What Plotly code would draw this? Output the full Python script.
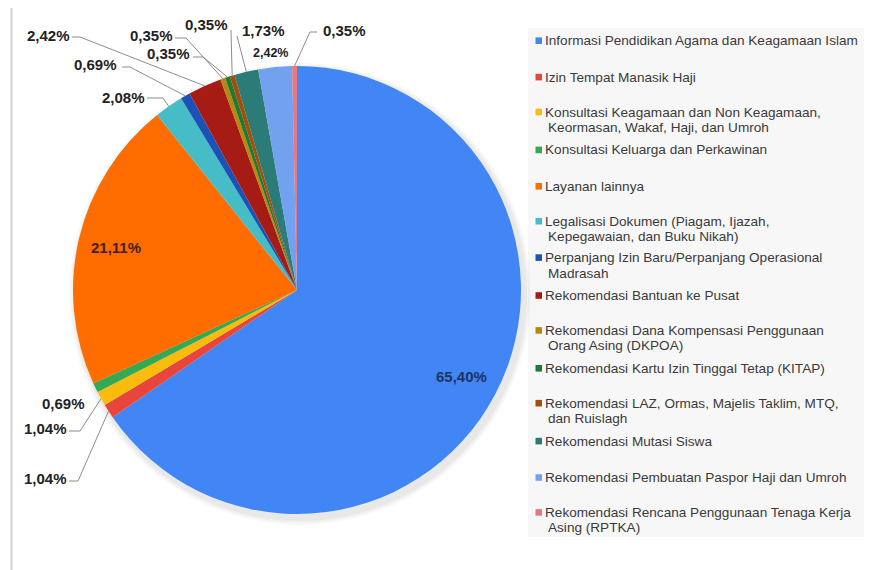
import math
import plotly.graph_objects as go

# ---------------- data ----------------
categories = [
    "Informasi Pendidikan Agama dan Keagamaan Islam",
    "Izin Tempat Manasik Haji",
    "Konsultasi Keagamaan dan Non Keagamaan, Keormasan, Wakaf, Haji, dan Umroh",
    "Konsultasi Keluarga dan Perkawinan",
    "Layanan lainnya",
    "Legalisasi Dokumen (Piagam, Ijazah, Kepegawaian, dan Buku Nikah)",
    "Perpanjang Izin Baru/Perpanjang Operasional Madrasah",
    "Rekomendasi Bantuan ke Pusat",
    "Rekomendasi Dana Kompensasi Penggunaan Orang Asing (DKPOA)",
    "Rekomendasi Kartu Izin Tinggal Tetap (KITAP)",
    "Rekomendasi LAZ, Ormas, Majelis Taklim, MTQ, dan Ruislagh",
    "Rekomendasi Mutasi Siswa",
    "Rekomendasi Pembuatan Paspor Haji dan Umroh",
    "Rekomendasi Rencana Penggunaan Tenaga Kerja Asing (RPTKA)",
]
legend_lines = [
    ["Informasi Pendidikan Agama dan Keagamaan Islam"],
    ["Izin Tempat Manasik Haji"],
    ["Konsultasi Keagamaan dan Non Keagamaan,", "Keormasan, Wakaf, Haji, dan Umroh"],
    ["Konsultasi Keluarga dan Perkawinan"],
    ["Layanan lainnya"],
    ["Legalisasi Dokumen (Piagam, Ijazah,", "Kepegawaian, dan Buku Nikah)"],
    ["Perpanjang Izin Baru/Perpanjang Operasional", "Madrasah"],
    ["Rekomendasi Bantuan ke Pusat"],
    ["Rekomendasi Dana Kompensasi Penggunaan", "Orang Asing (DKPOA)"],
    ["Rekomendasi Kartu Izin Tinggal Tetap (KITAP)"],
    ["Rekomendasi LAZ, Ormas, Majelis Taklim, MTQ,", "dan Ruislagh"],
    ["Rekomendasi Mutasi Siswa"],
    ["Rekomendasi Pembuatan Paspor Haji dan Umroh"],
    ["Rekomendasi Rencana Penggunaan Tenaga Kerja", "Asing (RPTKA)"],
]
percentages = [65.40, 1.04, 1.04, 0.69, 21.11, 2.08, 0.69, 2.42, 0.35, 0.35, 0.35, 1.73, 2.42, 0.35]

colors = ["#4285f4", "#e8453c", "#f9bb0c", "#34a853", "#ff6d01", "#46bdc6", "#1a52b8",
          "#a61c14", "#b8870c", "#1f7a33", "#a64d0d", "#2b7b77", "#72a1f0", "#ea7780"]

# ---------------- layout constants (pixels in the page) ----------------
W, H = 872, 570
OFF = 8  # default page margin around the figure
CX, CY, R = 297, 290, 224


def px(x):
    return (x - OFF) / W


def py(y):
    return 1 - (y - OFF) / H


FONT = "Arial, Liberation Sans, sans-serif"

fig = go.Figure()
fig.add_trace(go.Pie(
    labels=categories,
    values=percentages,
    marker=dict(colors=colors, line=dict(width=0)),
    sort=False,
    direction="clockwise",
    rotation=0,
    textinfo="none",
    showlegend=False,
    hovertemplate="%{label}: %{value:.2f}%<extra></extra>",
    domain=dict(x=[px(CX - R), px(CX + R)], y=[py(CY + R), py(CY - R)]),
))

# slice middle angles (clockwise from 12 o'clock), from data
total = sum(percentages)
mid_angles = []
cum = 0.0
for v in percentages:
    mid_angles.append((cum + v / 2) / total * 2 * math.pi)
    cum += v


def polar(angle, r):
    return CX + r * math.sin(angle), CY - r * math.cos(angle)


def fmt(v):
    return f"{v:.2f}".replace(".", ",") + "%"


shapes = []
annotations = []

# frame + legend box + subtle pie shadow
shapes.append(dict(type="rect", xref="paper", yref="paper", x0=px(11.5), x1=px(W + 30),
                   y0=py(H + 30), y1=py(5), line=dict(color="#d2d2d2", width=2),
                   fillcolor="rgba(0,0,0,0)", layer="below"))
shapes.append(dict(type="rect", xref="paper", yref="paper", x0=px(528), x1=px(865),
                   y0=py(537), y1=py(28), line=dict(width=0), fillcolor="#f7f7f7",
                   layer="below"))
for k, a in enumerate([0.025, 0.03, 0.035]):
    g = 7 - 2 * k
    shapes.append(dict(type="circle", xref="paper", yref="paper",
                       x0=px(CX - R - g + 3), x1=px(CX + R + g + 3),
                       y0=py(CY + R + g + 4), y1=py(CY - R - g + 4),
                       line=dict(width=0), fillcolor=f"rgba(0,0,0,{a})", layer="below"))

# inside labels
inside = {0: "#1d3461", 4: "#45200a"}
for i, col in inside.items():
    x, y = polar(mid_angles[i], 0.83 * R)
    annotations.append(dict(x=px(x), y=py(y), xref="paper", yref="paper",
                            xanchor="center", yanchor="middle",
                            text=f"<b>{fmt(percentages[i])}</b>", showarrow=False,
                            font=dict(family=FONT, size=15, color=col)))

# outside labels: (text left x, text y, leader points before the slice edge)
outside = {
    1: (22, 478, [(69, 481), (78, 481)]),
    2: (22, 428, [(69, 431), (80, 431)]),
    3: (40, 403, None),
    5: (100, 97, [(147, 98), (163, 98)]),
    6: (72, 65, [(122, 67), (130, 67)]),
    7: (25, 35, [(72, 37), (80, 37)]),
    8: (128, 35, [(175, 38), (186, 38)]),
    9: (145, 53, [(193, 57), (203, 57)]),
    10: (183, 25, [(231, 30)]),
    11: (240, 30, [(237, 36)]),
    13: (321, 30, [(317, 32), (310, 32)]),
}
for i, (tx, ty, pts) in outside.items():
    annotations.append(dict(x=px(tx), y=py(ty), xref="paper", yref="paper", xanchor="left",
                            yanchor="middle", text=f"<b>{fmt(percentages[i])}</b>",
                            showarrow=False, font=dict(family=FONT, size=15, color="#222222")))
    if pts:
        ex, ey = polar(mid_angles[i], R)
        allp = pts + [(ex, ey)]
        path = "M " + " L ".join(f"{px(a):.5f},{py(b):.5f}" for a, b in allp)
        shapes.append(dict(type="path", xref="paper", yref="paper", path=path,
                           line=dict(color="#8c8c8c", width=1)))

# small label directly above the light-blue slice
x12, _ = polar(mid_angles[12], R)
annotations.append(dict(x=px(x12 - 5), y=py(53), xref="paper", yref="paper",
                        xanchor="center", yanchor="middle",
                        text=f"<b>{fmt(percentages[12])}</b>", showarrow=False,
                        font=dict(family=FONT, size=12.5, color="#222222")))

# legend (drawn manually to match spacing)
for i, lines in enumerate(legend_lines):
    slot = 40.7 + 36.4 * i
    y1 = slot if len(lines) == 1 else slot - 1.5
    shapes.append(dict(type="rect", xref="paper", yref="paper", x0=px(535.5), x1=px(542),
                       y0=py(y1 + 3.3), y1=py(y1 - 3.3), line=dict(width=0),
                       fillcolor=colors[i]))
    for j, t in enumerate(lines):
        annotations.append(dict(x=px(542.5 if j == 0 else 545.5), y=py(y1 + 15.5 * j),
                                xref="paper", yref="paper", xanchor="left", yanchor="middle",
                                text=t, showarrow=False,
                                font=dict(family=FONT, size=13.6, color="#3a3a3a")))

fig.update_layout(
    width=W, height=H,
    margin=dict(l=0, r=0, t=0, b=0),
    paper_bgcolor="white", plot_bgcolor="white",
    shapes=shapes, annotations=annotations,
    showlegend=False,
)
fig.write_html("out.html")
